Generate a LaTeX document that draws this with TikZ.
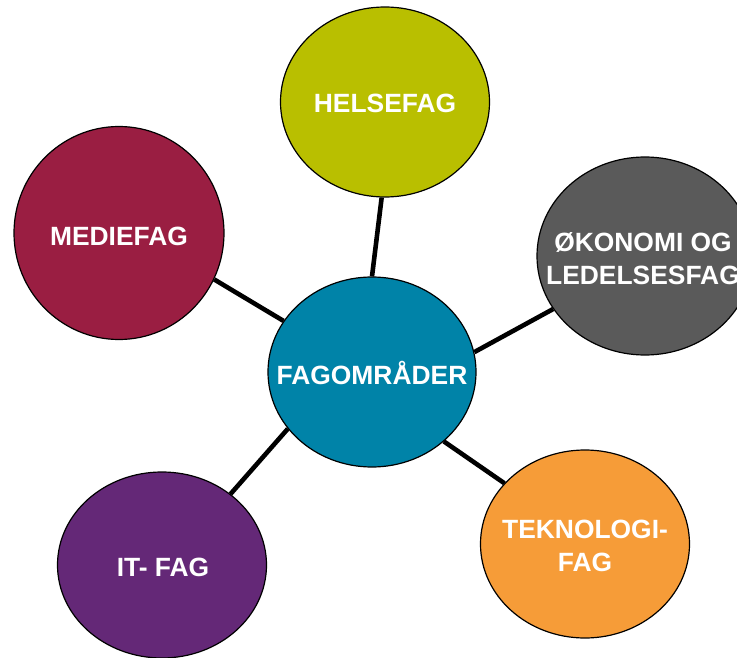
\documentclass[tikz,border=0pt]{standalone}
\usepackage{fontspec}
\setmainfont{Liberation Sans}
\usepackage{xcolor}
\usepackage{tikz}
\usetikzlibrary{shapes.geometric, positioning}
\definecolor{helsegreen}{RGB}{185,191,0}
\definecolor{mediered}{RGB}{154,30,66}
\definecolor{okogray}{RGB}{90,90,90}
\definecolor{fagblue}{RGB}{0,131,168}
\definecolor{itpurple}{RGB}{100,40,119}
\definecolor{teknoorange}{RGB}{246,156,56}
\tikzset{fagfelt/.style={ellipse, draw=black, line width=1.2pt, inner sep=0pt},
	fagtekst/.style={text=white, font=\bfseries\fontsize{26.4}{33}\selectfont, align=center, inner sep=0pt},
	kobling/.style={line width=4.6pt, draw=black}}

\begin{document}
\begin{tikzpicture}[x=1pt, y=-1pt]
	\useasboundingbox (0,0) rectangle (737,658);
	\node[fagfelt, fill=helsegreen, minimum width=209pt, minimum height=190pt] (Helsefag) at (385,102) {};
	\node[fagfelt, fill=mediered, minimum width=210pt, minimum height=213pt] (Mediefag) at (119,233) {};
	\node[fagfelt, fill=okogray, minimum width=216pt, minimum height=198pt] (Okonomi) at (645,256) {};
	\node[fagfelt, fill=itpurple, minimum width=209pt, minimum height=186pt] (IT fag) at (162,565) {};
	\node[fagfelt, fill=teknoorange, minimum width=209pt, minimum height=188pt] (Teknologi) at (585,544) {};
	\node[fagfelt, fill=fagblue, minimum width=208pt, minimum height=190pt] (Fagomrader) at (372,372) {};
	\node[fagtekst] (Helsefag tekst) at (385,103) {HELSEFAG};
	\node[fagtekst] (Mediefag tekst) at (119,236) {MEDIEFAG};
	\node[fagtekst] (Okonomi tekst) at (643,259) {ØKONOMI OG\\LEDELSESFAG};
	\node[fagtekst] (IT fag tekst) at (163,567) {IT- FAG};
	\node[fagtekst] (Teknologi tekst) at (585,546) {TEKNOLOGI-\\FAG};
	\node[fagtekst] (Fagomrader tekst) at (372,373) {FAGOMRÅDER};
	\draw[kobling]
		(Fagomrader.90.6) -- (Helsefag.268)
		(Fagomrader.150.7) -- (Mediefag.-26.3)
		(Fagomrader.11.5) -- (Okonomi.210)
		(Fagomrader.214.3) -- (IT fag.46.2)
		(Fagomrader.-44.2) -- (Teknologi.143.6);
\end{tikzpicture}
\end{document}
